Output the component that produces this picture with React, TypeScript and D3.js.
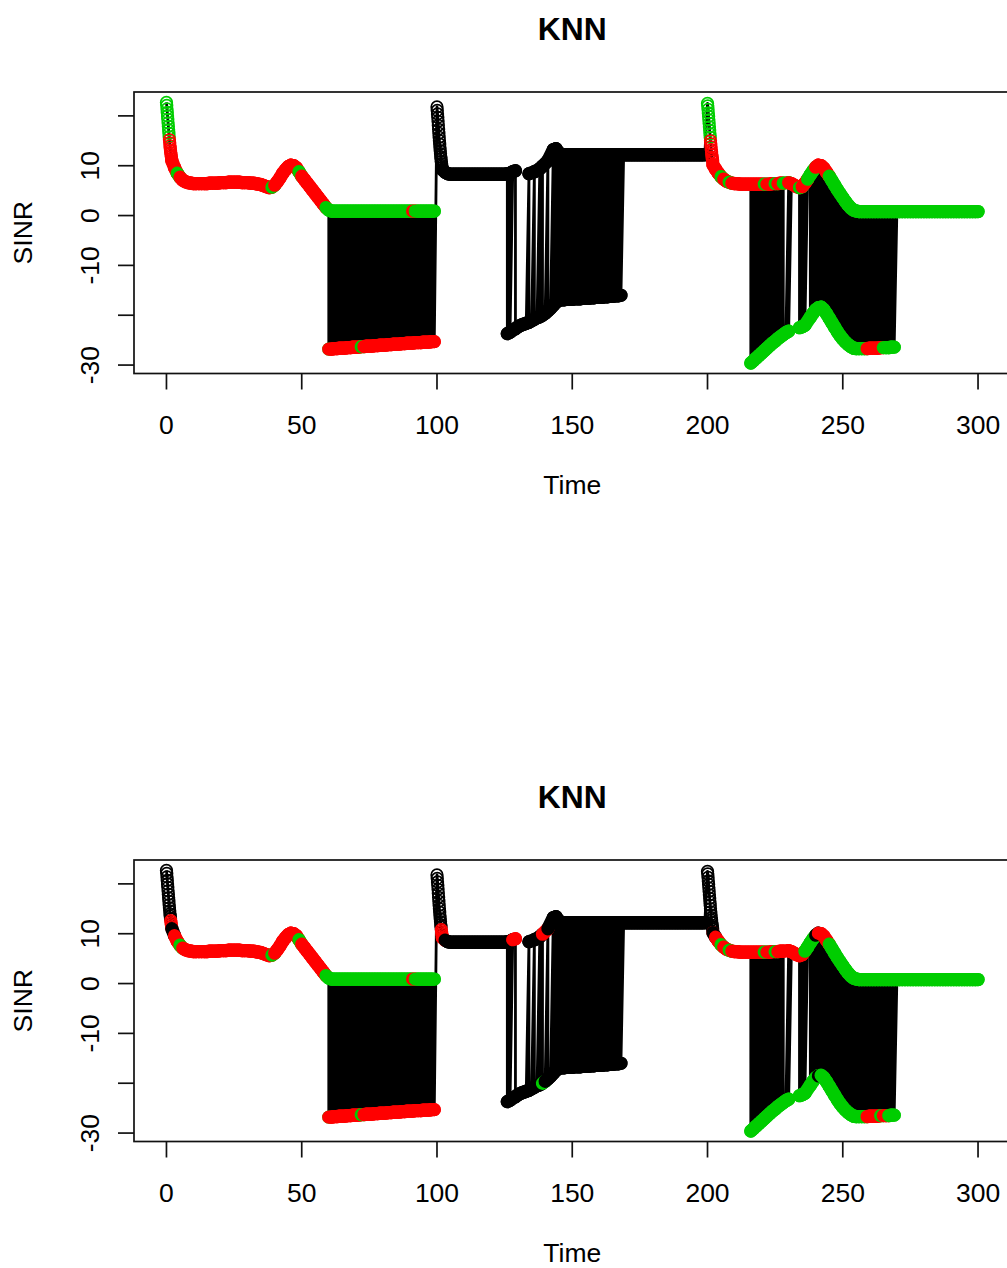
import React, { useMemo } from "react";
import * as d3 from "d3";

const WIDTH = 1007;
const HEIGHT = 1268;

// Serving-link SINR (dB), one reading per second, t = 0..300.
// null where the 0.1 s burst readings take over or the link is not reported.
const servingSinr: (number | null)[] = [
  null, null, 11.0, 9.6, 8.5, 7.7, 7.1, 6.8, 6.6, 6.5,
  6.4, 6.4, 6.4, 6.4, 6.4, 6.4, 6.5, 6.5, 6.5, 6.5,
  6.6, 6.6, 6.6, 6.7, 6.7, 6.7, 6.7, 6.7, 6.6, 6.6,
  6.6, 6.5, 6.5, 6.4, 6.3, 6.2, 6.0, 5.8, 5.6, 5.7,
  6.1, 6.8, 7.6, 8.5, 9.2, 9.8, 10.1, 10.0, 9.6, 8.8,
  7.9, 7.2, 6.5, 5.8, 5.1, 4.4, 3.7, 3.0, 2.3, 1.6,
  1.1, 0.9, 0.9, 0.9, 0.9, 0.9, 0.9, 0.9, 0.9, 0.9,
  0.9, 0.9, 0.9, 0.9, 0.9, 0.9, 0.9, 0.9, 0.9, 0.9,
  0.9, 0.9, 0.9, 0.9, 0.9, 0.9, 0.9, 0.9, 0.9, 0.9,
  0.9, 0.9, 0.9, 0.9, 0.9, 0.9, 0.9, 0.9, 0.9, 0.9,
  null, null, 9.2, 8.7, 8.4, 8.3, 8.3, 8.3, 8.3, 8.3,
  8.3, 8.3, 8.3, 8.3, 8.3, 8.3, 8.3, 8.3, 8.3, 8.3,
  8.3, 8.3, 8.3, 8.3, 8.3, 8.3, 8.4, 8.5, 8.8, 9.0,
  null, null, null, null, 8.4, 8.6, 8.8, 9.1, 9.4, 9.9,
  10.4, 11.0, 12.0, 13.2, 13.4, 12.6, 12.3, 12.2, 12.2, 12.2,
  12.2, 12.2, 12.2, 12.2, 12.2, 12.2, 12.2, 12.2, 12.2, 12.2,
  12.2, 12.2, 12.2, 12.2, 12.2, 12.2, 12.2, 12.2, 12.2, 12.2,
  12.2, 12.2, 12.2, 12.2, 12.2, 12.2, 12.2, 12.2, 12.2, 12.2,
  12.2, 12.2, 12.2, 12.2, 12.2, 12.2, 12.2, 12.2, 12.2, 12.2,
  12.2, 12.2, 12.2, 12.2, 12.2, 12.2, 12.2, 12.2, 12.2, 12.2,
  null, null, 10.2, 9.3, 8.5, 7.8, 7.3, 6.9, 6.7, 6.5,
  6.4, 6.4, 6.3, 6.3, 6.3, 6.3, 6.3, 6.3, 6.3, 6.3,
  6.3, 6.3, 6.3, 6.3, 6.4, 6.4, 6.4, 6.5, 6.5, 6.5,
  6.6, 6.4, 6.1, 5.8, 5.6, 5.8, 6.5, 7.3, 8.2, 9.0,
  9.7, 10.1, 10.0, 9.5, 8.7, 7.9, 7.0, 6.1, 5.2, 4.4,
  3.6, 2.8, 2.1, 1.5, 1.1, 0.9, 0.8, 0.8, 0.8, 0.8,
  0.8, 0.8, 0.8, 0.8, 0.8, 0.8, 0.8, 0.8, 0.8, 0.8,
  0.8, 0.8, 0.8, 0.8, 0.8, 0.8, 0.8, 0.8, 0.8, 0.8,
  0.8, 0.8, 0.8, 0.8, 0.8, 0.8, 0.8, 0.8, 0.8, 0.8,
  0.8, 0.8, 0.8, 0.8, 0.8, 0.8, 0.8, 0.8, 0.8, 0.8,
  0.8,
];

// Readings every 0.1 s during the two seconds after each cell change
const burstStart = [0, 100, 200];
const burstSinr0 = [22.7, 22.1, 21.4, 20.7, 20.0, 19.3, 18.6, 17.9, 17.2, 16.5, 15.8, 15.2, 14.6, 14.0, 13.5, 13.0, 12.6, 12.2, 11.8, 11.4];
const burstSinr100 = [21.8, 21.1, 20.4, 19.7, 18.9, 18.1, 17.3, 16.5, 15.7, 15.0, 14.3, 13.6, 13.0, 12.4, 11.8, 11.3, 10.8, 10.4, 10.0, 9.6];
const burstSinr200 = [22.5, 22.0, 21.3, 20.6, 19.9, 19.2, 18.5, 17.8, 17.1, 16.4, 15.7, 15.0, 14.4, 13.8, 13.2, 12.7, 12.2, 11.7, 11.3, 10.9];

// Neighbour-link SINR (dB), one reading per second
const neighbourStart = [60, 126, 216];
// t = 60..99
const neighbourSinrA = [
  -26.8, -26.8, -26.7, -26.7, -26.6, -26.6, -26.6, -26.5, -26.5, -26.4,
  -26.4, -26.4, -26.3, -26.3, -26.2, -26.2, -26.2, -26.1, -26.1, -26.0,
  -26.0, -26.0, -25.9, -25.9, -25.8, -25.8, -25.8, -25.7, -25.7, -25.6,
  -25.6, -25.6, -25.5, -25.5, -25.5, -25.4, -25.4, -25.4, -25.3, -25.3,
];
// t = 126..168
const neighbourSinrB = [
  -23.7, -23.4, -23.0, -22.7, -22.3, -22.0, -21.8, -21.6, -21.4, -21.1,
  -20.8, -20.5, -20.3, -20.0, -19.6, -19.1, -18.6, -18.0, -17.4, -17.0,
  -16.9, -16.9, -16.8, -16.8, -16.8, -16.7, -16.7, -16.7, -16.6, -16.6,
  -16.6, -16.5, -16.5, -16.4, -16.4, -16.4, -16.3, -16.3, -16.2, -16.2,
  -16.1, -16.1, -16.0,
];
// t = 216..269
const neighbourSinrC = [
  -29.6, -29.1, -28.6, -28.1, -27.6, -27.1, -26.6, -26.1, -25.6, -25.2,
  -24.7, -24.3, -23.9, -23.5, -23.2, -23.0, -22.8, -22.6, -22.5, -22.3,
  -22.0, -21.2, -20.4, -19.6, -18.9, -18.5, -18.4, -18.9, -19.7, -20.6,
  -21.5, -22.4, -23.3, -24.1, -24.8, -25.4, -25.9, -26.3, -26.6, -26.7,
  -26.7, -26.7, -26.7, -26.7, -26.6, -26.6, -26.6, -26.6, -26.5, -26.5,
  -26.5, -26.5, -26.4, -26.4,
];

// Link reported each second from the given time on: s = serving, n = neighbour, b = both
const reportFrom = [0, 60, 100, 126, 128, 129, 130, 134, 135, 136, 137, 138, 140, 141, 142, 143, 169, 216, 229, 230, 231, 234, 237, 238, 270];
const reportLink = ["s", "b", "s", "b", "s", "b", "n", "b", "n", "b", "n", "b", "n", "b", "n", "b", "s", "b", "n", "b", "s", "b", "s", "b", "s"];

// KNN class of each reading (1, 2, 3), given as runs starting at the listed time
const topServingFrom = [0, 1.1, 5, 6, 40, 41, 50, 51, 60, 92, 93, 100, 200, 201.1, 206, 207, 209, 210, 222, 223, 226, 227, 230, 231, 235, 236, 238, 241, 246];
const topServingClass = [3, 2, 3, 2, 3, 2, 3, 2, 3, 2, 3, 1, 3, 2, 3, 2, 3, 2, 3, 2, 3, 2, 3, 2, 3, 2, 3, 2, 3];
const topNeighbourFrom = [60, 61, 73, 74, 100, 216, 260, 266];
const topNeighbourClass = [3, 2, 3, 2, 1, 3, 2, 3];

const bottomServingFrom = [0, 1.6, 3, 4, 6, 7, 40, 41, 50, 51, 60, 92, 93, 100, 101.6, 104, 129, 130, 141, 142, 202, 203, 204, 206, 207, 209, 210, 222, 223, 226, 227, 237, 241, 242, 246];
const bottomServingClass = [1, 2, 1, 2, 3, 2, 3, 2, 3, 2, 3, 2, 3, 1, 2, 1, 2, 1, 2, 1, 2, 1, 2, 3, 2, 3, 2, 3, 2, 3, 2, 3, 1, 2, 3];
const bottomNeighbourFrom = [60, 61, 73, 74, 100, 140, 141, 200, 242, 243, 260, 265, 266, 268];
const bottomNeighbourClass = [3, 2, 3, 2, 1, 3, 1, 3, 1, 3, 2, 3, 2, 3];

const panelTitles = ["KNN", "KNN"];
const timeTicks = [0, 50, 100, 150, 200, 250, 300];
const sinrTicks = [-30, -20, -10, 0, 10, 20];
const sinrTickLabels = ["-30", "", "-10", "0", "10", ""];

const classColour = d3.scaleOrdinal<number, string>().domain([1, 2, 3]).range(["#000000", "#ff0000", "#00cd00"]);

// Layout of one panel (pixels)
const PLOT = { left: 134, right: 1010.5, top: 92, bottom: 373.5 };
const PANEL_STEP = 768;
const FONT = '"Liberation Sans", Arial, Helvetica, sans-serif';
const BASE = 26.5;
const TICK = 16;
const RING_R = 5.8;
const RING_W = 1.7;
const TRACE_W = 2.8;

type Sample = { t: number; v: number; link: "s" | "n"; burst: boolean };

function buildTrace(): Sample[] {
  const bursts = [burstSinr0, burstSinr100, burstSinr200];
  const neighbours = [neighbourSinrA, neighbourSinrB, neighbourSinrC];
  const neighbourAt = (t: number): number | null => {
    for (let i = 0; i < neighbourStart.length; i++) {
      const k = t - neighbourStart[i];
      if (k >= 0 && k < neighbours[i].length) return neighbours[i][k];
    }
    return null;
  };
  const linkAt = (t: number) => {
    let m = reportLink[0];
    reportFrom.forEach((f, i) => {
      if (t >= f) m = reportLink[i];
    });
    return m;
  };
  const out: Sample[] = [];
  for (let t = 0; t < servingSinr.length; t++) {
    const bi = burstStart.indexOf(t);
    if (bi >= 0) bursts[bi].forEach((v, k) => out.push({ t: t + k / 10, v, link: "s", burst: true }));
    const mode = linkAt(t);
    const s = servingSinr[t];
    if ((mode === "s" || mode === "b") && s != null) out.push({ t, v: s, link: "s", burst: false });
    const n = neighbourAt(t);
    if ((mode === "n" || mode === "b") && n != null) out.push({ t, v: n, link: "n", burst: false });
  }
  return out;
}

function classAt(from: number[], cls: number[], t: number) {
  let c = cls[0];
  for (let i = 0; i < from.length; i++) if (t >= from[i] - 1e-9) c = cls[i];
  return c;
}

function padded([a, b]: [number, number]): [number, number] {
  const p = (b - a) * 0.04;
  return [a - p, b + p];
}

type PanelProps = {
  trace: Sample[];
  index: number;
  servingFrom: number[];
  servingClass: number[];
  neighbourFrom: number[];
  neighbourClass: number[];
};

function Panel({ trace, index, servingFrom, servingClass, neighbourFrom, neighbourClass }: PanelProps) {
  const x = d3
    .scaleLinear()
    .domain(padded(d3.extent(trace, (d) => d.t) as [number, number]))
    .range([PLOT.left, PLOT.right]);
  const y = d3
    .scaleLinear()
    .domain(padded(d3.extent(trace, (d) => d.v) as [number, number]))
    .range([PLOT.bottom, PLOT.top]);

  const path = d3
    .line<Sample>()
    .x((d) => x(d.t))
    .y((d) => y(d.v))(trace) as string;

  // readings in time order: trail between successive per-second readings of the same link, then the ring
  const marks: React.ReactNode[] = [];
  const last: Record<string, Sample | null> = { s: null, n: null };
  trace.forEach((d, i) => {
    const cls = d.link === "s" ? classAt(servingFrom, servingClass, d.t) : classAt(neighbourFrom, neighbourClass, d.t);
    const col = classColour(cls);
    const prev = last[d.link];
    if (prev && !prev.burst && !d.burst && d.t - prev.t <= 2.001) {
      marks.push(
        <line
          key={`w${i}`}
          x1={x(prev.t)}
          y1={y(prev.v)}
          x2={x(d.t)}
          y2={y(d.v)}
          stroke={col}
          strokeWidth={RING_R * 2 + RING_W}
          strokeLinecap="round"
        />
      );
    }
    marks.push(<circle key={`c${i}`} cx={x(d.t)} cy={y(d.v)} r={RING_R} fill="none" stroke={col} strokeWidth={RING_W} />);
    last[d.link] = d;
  });

  const clipId = `plot-clip-${index}`;
  const cx = (PLOT.left + PLOT.right) / 2;
  const cy = (PLOT.top + PLOT.bottom) / 2;

  return (
    <g transform={`translate(0, ${index * PANEL_STEP})`}>
      <defs>
        <clipPath id={clipId}>
          <rect x={PLOT.left} y={PLOT.top} width={PLOT.right - PLOT.left} height={PLOT.bottom - PLOT.top} />
        </clipPath>
      </defs>
      <g clipPath={`url(#${clipId})`}>
        <path d={path} fill="none" stroke="#000" strokeWidth={TRACE_W} strokeLinejoin="round" />
        {marks}
      </g>
      <rect
        x={PLOT.left}
        y={PLOT.top}
        width={PLOT.right - PLOT.left}
        height={PLOT.bottom - PLOT.top}
        fill="none"
        stroke="#111"
        strokeWidth={1.7}
      />
      {timeTicks.map((t) => (
        <g key={`xt${t}`}>
          <line x1={x(t)} x2={x(t)} y1={PLOT.bottom} y2={PLOT.bottom + TICK} stroke="#111" strokeWidth={1.7} />
          <text x={x(t)} y={433.5} textAnchor="middle" fontSize={BASE} fill="#000">
            {String(t)}
          </text>
        </g>
      ))}
      {sinrTicks.map((v, i) => (
        <g key={`yt${v}`}>
          <line x1={PLOT.left - TICK} x2={PLOT.left} y1={y(v)} y2={y(v)} stroke="#111" strokeWidth={1.7} />
          {sinrTickLabels[i] && (
            <text transform={`translate(98.5, ${y(v)}) rotate(-90)`} textAnchor="middle" fontSize={BASE} fill="#000">
              {sinrTickLabels[i]}
            </text>
          )}
        </g>
      ))}
      <text x={cx} y={39.5} textAnchor="middle" fontSize={BASE * 1.2} fontWeight="bold" fill="#000">
        {panelTitles[index]}
      </text>
      <text x={cx} y={493.5} textAnchor="middle" fontSize={BASE} fill="#000">
        Time
      </text>
      <text transform={`translate(31.5, ${cy}) rotate(-90)`} textAnchor="middle" fontSize={BASE} fill="#000">
        SINR
      </text>
    </g>
  );
}

export default function App() {
  const trace = useMemo(buildTrace, []);
  return (
    <svg
      width={WIDTH}
      height={HEIGHT}
      fontFamily={FONT}
      style={{ position: "absolute", left: 0, top: 0, display: "block", background: "#fff" }}
    >
      <rect width={WIDTH} height={HEIGHT} fill="#fff" />
      <Panel
        trace={trace}
        index={0}
        servingFrom={topServingFrom}
        servingClass={topServingClass}
        neighbourFrom={topNeighbourFrom}
        neighbourClass={topNeighbourClass}
      />
      <Panel
        trace={trace}
        index={1}
        servingFrom={bottomServingFrom}
        servingClass={bottomServingClass}
        neighbourFrom={bottomNeighbourFrom}
        neighbourClass={bottomNeighbourClass}
      />
    </svg>
  );
}
